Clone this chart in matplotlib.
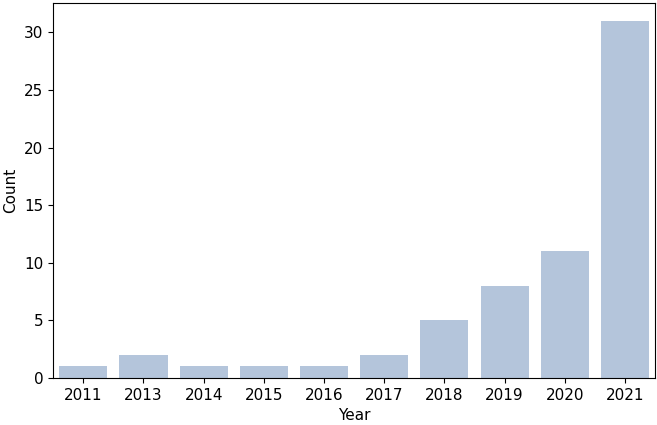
import matplotlib
matplotlib.use("Agg")
import matplotlib.pyplot as plt

years = ["2011", "2013", "2014", "2015", "2016", "2017", "2018", "2019", "2020", "2021"]
counts = [1, 2, 1, 1, 1, 2, 5, 8, 11, 31]

fig = plt.figure(figsize=(6.57, 4.25), dpi=100)
ax = fig.add_axes([0.081, 0.111, 0.916, 0.882])
ax.bar(range(len(years)), counts, width=0.8, color="#b4c5db")
ax.set_xticks(range(len(years)))
ax.set_xticklabels(years)
ax.set_xlim(-0.5, len(years) - 0.5)
ax.set_xlabel("Year", fontsize=11)
ax.set_ylabel("Count", fontsize=11)
ax.tick_params(labelsize=11)

fig.savefig("out.png", dpi=100)
